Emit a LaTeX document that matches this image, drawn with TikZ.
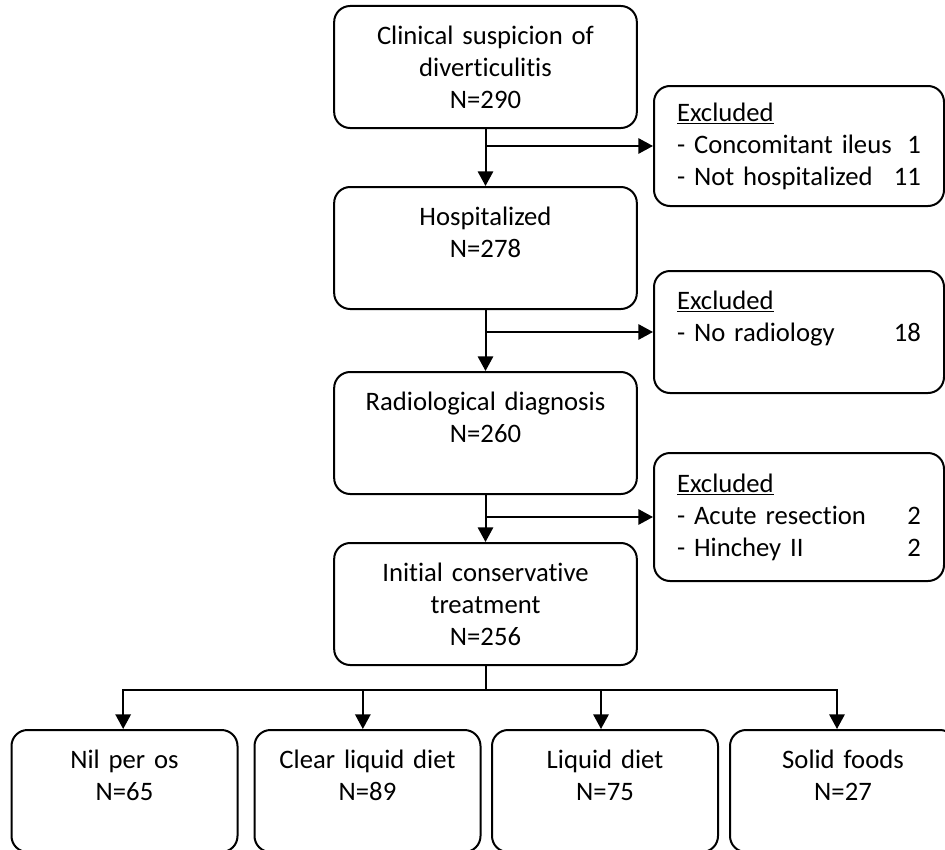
\documentclass[tikz,border=0pt]{standalone}
\usepackage{fontspec}
\setmainfont{Carlito}[Ligatures=NoCommon]
\usetikzlibrary{arrows.meta}

\tikzset{
  stage/.style={draw, line width=1.5pt, rounded corners=12pt, anchor=north,
    minimum width=227pt, minimum height=91.5pt, text width=215pt,
    align=center, inner sep=0pt, font=\fontsize{20}{24}\selectfont},
  excl/.style={draw, line width=1.5pt, rounded corners=12pt, anchor=north west,
    minimum width=217.5pt, text width=183pt, align=left, inner sep=0pt,
    font=\fontsize{20}{24}\selectfont},
  diet/.style={stage, minimum width=169.5pt, text width=160pt},
  flow/.style={line width=1.5pt, -{Triangle[length=11pt,width=11.5pt]}},
  link/.style={line width=1.5pt}
}

\begin{document}
\begin{tikzpicture}[x=0.75pt,y=-0.75pt]
\useasboundingbox (0,0) rectangle (945,849);
\clip (0,0) rectangle (945,849);

% main column
\node[stage] (susp)  at (485.5,5)   {Clinical suspicion of\\diverticulitis\\N=290};
\node[stage] (hosp)  at (485.5,186) {Hospitalized\\N=278\\~};
\node[stage] (radio) at (485.5,371) {Radiological diagnosis\\N=260\\~};
\node[stage] (init)  at (485.5,542) {Initial conservative\\treatment\\N=256};

% exclusions
\node[excl, minimum height=90pt] (ex1) at (653,85)
  {\underline{Excluded}\\- Concomitant ileus\hfill 1\\- Not hospitalized\hfill 11};
\node[excl, minimum height=91.5pt] (ex2) at (653,270)
  {\underline{Excluded}\\- No radiology\hfill 18\\~};
\node[excl, minimum height=96pt] (ex3) at (653,452)
  {\underline{Excluded}\\- Acute resection\hfill 2\\- Hinchey II\hfill 2};

% diet groups
\node[diet] (nil)    at (124.5,729) {Nil per os\\N=65\\~};
\node[diet] (clear)  at (367.5,729) {Clear liquid diet\\N=89\\~};
\node[diet] (liquid) at (605,729)   {Liquid diet\\N=75\\~};
\node[diet] (solid)  at (843,729)   {Solid foods\\N=27\\~};

\coordinate (split) at (485.5,690);

\draw[flow] (susp) -- (hosp);
\draw[flow] (hosp) -- (radio);
\draw[flow] (radio) -- (init);
\draw[flow] (susp.south |- ex1.west) -- (ex1.west);
\draw[flow] (hosp.south |- ex2.west) -- (ex2.west);
\draw[flow] (radio.south |- ex3.west) -- (ex3.west);

\draw[link] (init) -- (split);
\draw[flow] (split) -| ([xshift=-1pt]nil.north);
\draw[flow] (split) -| ([xshift=-3.5pt]clear.north);
\draw[flow] (split) -| ([xshift=-3pt]liquid.north);
\draw[flow] (split) -| ([xshift=-4.5pt]solid.north);
\end{tikzpicture}
\end{document}
